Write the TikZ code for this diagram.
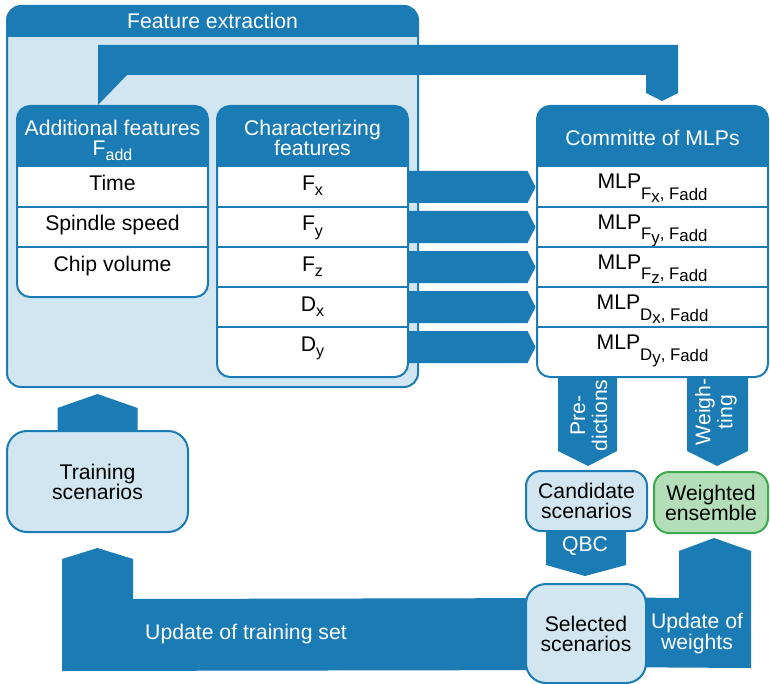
\documentclass[tikz,border=0pt]{standalone}
\usepackage{fontspec}
\setmainfont{Liberation Sans}
\usetikzlibrary{calc}

\definecolor{dblue}{RGB}{26,123,181}
\definecolor{lblue}{RGB}{209,230,240}
\definecolor{lgreen}{RGB}{180,222,184}
\definecolor{dgreen}{RGB}{62,170,78}

\pgfdeclarelayer{background}
\pgfsetlayers{background,main}

% small lowered index, and the MLP label with its two indices
\newcommand{\lowsub}[1]{\raisebox{-2.5pt}{\fontsize{8}{8}\selectfont #1}}
\newcommand{\mlp}[2]{MLP\raisebox{-5.5pt}{\fontsize{8.4}{8}\selectfont #1\raisebox{-1.5pt}{#2}, F\raisebox{-0.5pt}{add}}}

\begin{document}
\begin{tikzpicture}[x=0.5pt, y=-0.5pt,
  every node/.style={font=\fontsize{10.6}{10}\selectfont, inner sep=0pt},
  panel/.style={draw=dblue, line width=1pt, fill=white, rounded corners=6.5pt,
    path picture={\fill[dblue, sharp corners] (path picture bounding box.north west) rectangle ([yshift=-#1]path picture bounding box.north east);}},
  head/.style={text=white, align=center},
  cell/.style={minimum width=95.5pt, minimum height=20pt, text height=8pt, text depth=4pt},
  mlpcell/.style={minimum width=115.5pt, minimum height=20pt, text height=7pt, text depth=5pt},
  rule/.style={draw=dblue, line width=1pt},
  box/.style={draw=dblue, line width=1pt, fill=lblue, align=center},
  flow/.style={fill=dblue},
  flowtext/.style={text=white, align=center, font=\fontsize{10.6}{10.5}\selectfont}]

\useasboundingbox (0,0) rectangle (770,684);

% feature extraction frame
\node[panel=15.5pt, fill=lblue, rounded corners=7pt, minimum width=205.5pt, minimum height=190.5pt] (fe) at (212.5,196.5) {};
\node[head, anchor=base] (fetitle) at (212.5,29) {Feature extraction};

% the three panels
\node[panel=30.5pt, minimum width=95.5pt, minimum height=95.5pt] (add) at (112.5,201.5) {};
\node[head] (addtitle) at (112.5,140) {Additional features\\F\lowsub{add}};

\node[panel=30.5pt, minimum width=95.5pt, minimum height=135.5pt] (chr) at (312.5,241.5) {};
\node[head] (chrtitle) at (312.5,137.5) {Characterizing\\features};

\node[panel=30.5pt, minimum width=115.5pt, minimum height=135.5pt] (mlp) at (652.5,241.5) {};
\node[head, anchor=base] (mlptitle) at (652.5,146) {Committe of MLPs};

% additional features go to every MLP
\fill[flow] ($(add.north)+(-14.5,0)$) -- ($(add.north)+(-14.5,-60)$) -- ($(mlp.north)+(25.5,-60)$)
  -- ($(mlp.north)+(25.5,-12)$) -- ($(mlp.north)+(9.5,-4)$) -- ($(mlp.north)+(-6.5,-12)$)
  -- ($(mlp.north)+(-6.5,-30)$) -- ($(add.north)+(14.5,-30)$) -- cycle;

% rows
\node[cell] (time) at (112.5,187) {Time};
\node[cell] (speed) at (112.5,227) {Spindle speed};
\node[cell] (chip) at (112.5,267) {Chip volume};
\draw[rule] (time.south west) -- (time.south east);
\draw[rule] (speed.south west) -- (speed.south east);

\node[cell] (fx) at (312.5,187) {F\lowsub{x}};
\node[cell] (fy) at (312.5,227) {F\lowsub{y}};
\node[cell] (fz) at (312.5,267) {F\lowsub{z}};
\node[cell] (dx) at (312.5,307) {D\lowsub{x}};
\node[cell] (dy) at (312.5,347) {D\lowsub{y}};

\node[mlpcell] (m1) at (652.5,187) {\mlp{F}{x}};
\node[mlpcell] (m2) at (652.5,227) {\mlp{F}{y}};
\node[mlpcell] (m3) at (652.5,267) {\mlp{F}{z}};
\node[mlpcell] (m4) at (652.5,307) {\mlp{D}{x}};
\node[mlpcell] (m5) at (652.5,347) {\mlp{D}{y}};

\foreach \a in {fx,fy,fz,dx,m1,m2,m3,m4}
  \draw[rule] (\a.south west) -- (\a.south east);

% one feature per MLP
\foreach \a/\b in {fx/m1,fy/m2,fz/m3,dx/m4,dy/m5}
  \fill[flow] ($(\a.east)+(0,-16)$) -- ($(\b.west)+(-9,-16)$) -- ($(\b.west)+(-1,0)$)
    -- ($(\b.west)+(-9,16)$) -- ($(\a.east)+(0,16)$) -- cycle;

% lower part
\node[box, rounded corners=10pt, minimum width=90.5pt, minimum height=50.5pt] (train) at (97.5,481.5) {Training\\scenarios};
\node[box, rounded corners=7.5pt, minimum width=60.5pt, minimum height=30pt] (cand) at (586.5,501) {Candidate\\scenarios};
\node[box, draw=dgreen, fill=lgreen, rounded corners=7.5pt, minimum width=57pt, minimum height=30.5pt] (wens) at (711,502.5) {Weighted\\ensemble};
\node[box, rounded corners=10pt, minimum width=60pt, minimum height=49.5pt] (sel) at (586,633.5) {Selected\\scenarios};

\fill[flow] ($(train.north)+(-40,0)$) -- ($(train.north)+(-40,-22)$) -- ($(train.north)+(0,-36)$)
  -- ($(train.north)+(40,-22)$) -- ($(train.north)+(40,0)$) -- cycle;

\fill[flow] ($(cand.north |- mlp.south)+(-28.5,0)$) -- ($(cand.north)+(-28.5,-19)$) -- ($(cand.north)+(1.5,-4)$)
  -- ($(cand.north)+(30.5,-19)$) -- ($(cand.north |- mlp.south)+(30.5,0)$) -- cycle;
\node[flowtext, rotate=90, font=\fontsize{10.6}{11}\selectfont] (predlbl) at (589,415.5) {Pre-\\dictions};

\fill[flow] ($(wens.north |- mlp.south)+(-24,0)$) -- ($(wens.north)+(-24,-20)$) -- ($(wens.north)+(6,-5)$)
  -- ($(wens.north)+(37,-20)$) -- ($(wens.north |- mlp.south)+(37,0)$) -- cycle;
\node[flowtext, rotate=90, font=\fontsize{10.6}{11}\selectfont] (wtlbl) at (716,412) {Weigh-\\ting};

\fill[flow] ($(cand.south)+(-40.5,0)$) -- ($(cand.south)+(-40.5,33)$) -- ($(cand.south)+(-1.5,44)$)
  -- ($(cand.south)+(39.5,33)$) -- ($(cand.south)+(39.5,0)$) -- cycle;
\node[flowtext, anchor=base] (qbclbl) at (585,551) {QBC};

\begin{pgfonlayer}{background}
  \fill[flow] ($(train.south)+(-35.5,138)$) -- ($(train.south)+(-35.5,26)$) -- ($(train.south)+(0,15)$)
    -- ($(train.south)+(35.5,26)$) -- ($(train.south)+(35.5,66)$) -- ($(sel.center)+(0,-35.5)$)
    -- ($(sel.center)+(0,36.5)$) -- cycle;
  \fill[flow] ($(sel.center)+(0,-36.5)$) -- ($(wens.south)+(-32,64)$) -- ($(wens.south)+(-32,17)$)
    -- ($(wens.south)+(3,4)$) -- ($(wens.south)+(40,17)$) -- ($(wens.south)+(40,134)$)
    -- ($(sel.center)+(0,33.5)$) -- cycle;
\end{pgfonlayer}
\node[flowtext, anchor=base] (trainlbl) at (246,639) {Update of training set};
\node[flowtext] (wlbl) at (697,634) {Update of\\weights};

\end{tikzpicture}
\end{document}
